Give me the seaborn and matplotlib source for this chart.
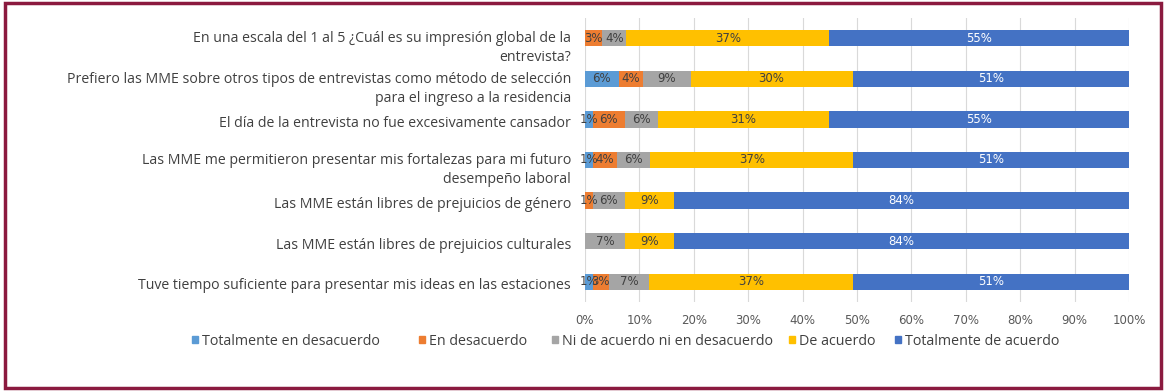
import numpy as np
import pandas as pd
import seaborn as sns
import matplotlib.pyplot as plt
import matplotlib.transforms as mtransforms
from matplotlib.patches import Rectangle

preguntas = [
    "En una escala del 1 al 5 ¿Cuál es su impresión global de la\nentrevista?",
    "Prefiero las MME sobre otros tipos de entrevistas como método de selección\npara el ingreso a la residencia",
    "El día de la entrevista no fue excesivamente cansador",
    "Las MME me permitieron presentar mis fortalezas para mi futuro\ndesempeño laboral",
    "Las MME están libres de prejuicios de género",
    "Las MME están libres de prejuicios culturales",
    "Tuve tiempo suficiente para presentar mis ideas en las estaciones",
]
categorias = ["Totalmente en desacuerdo", "En desacuerdo", "Ni de acuerdo ni en desacuerdo",
              "De acuerdo", "Totalmente de acuerdo"]
tot_desacuerdo = [0.0, 6.2, 1.4, 1.4, 0.0, 0.0, 1.4]
en_desacuerdo = [3.2, 4.4, 6.0, 4.4, 1.4, 0.0, 3.0]
neutral = [4.4, 8.8, 6.1, 6.2, 6.0, 7.4, 7.4]
de_acuerdo = [37.3, 29.8, 31.3, 37.3, 9.0, 9.0, 37.4]
tot_acuerdo = [55.1, 50.8, 55.2, 50.7, 83.6, 83.6, 50.8]
colores = ["#5B9BD5", "#ED7D31", "#A5A5A5", "#FFC000", "#4472C4"]
color_txt = ["#404040", "#404040", "#404040", "#404040", "white"]

df = pd.DataFrame({"pregunta": preguntas})
series = [tot_desacuerdo, en_desacuerdo, neutral, de_acuerdo, tot_acuerdo]
for c, s in zip(categorias, series):
    df[c] = s
acum = df[categorias].cumsum(axis=1)

fig = plt.figure(figsize=(11.66, 3.92), dpi=100)
ax = fig.add_axes([0.5017, 0.2296, 0.4666, 0.7245])

# stacked bars drawn as overlapping cumulative totals
for k in range(len(categorias) - 1, -1, -1):
    sns.barplot(x=acum[categorias[k]], y=df["pregunta"], orient="h",
                color=colores[k], width=0.4, ax=ax, zorder=3, saturation=1)

narrow = ["Liberation Sans Narrow", "DejaVu Sans"]
for i in range(len(df)):
    for k, c in enumerate(categorias):
        v = df[c][i]
        if v >= 1:
            ax.text(acum[c][i] - v / 2, i, f"{v:.0f}%", ha="center", va="center",
                    fontsize=8.5, color=color_txt[k], family=narrow, zorder=4)

ax.set_xlim(0, 100)
ax.set_ylim(len(df) - 0.5, -0.5)
ax.set_xticks(np.arange(0, 101, 10))
ax.set_xticklabels([f"{t}%" for t in range(0, 101, 10)], family=narrow,
                   fontsize=8.5, color="#595959")
ax.set_yticks([])
ax.set_xlabel("")
ax.set_ylabel("")
ax.grid(axis="x", color="#D9D9D9", linewidth=0.8, zorder=0)
ax.set_axisbelow(True)
for sp in ax.spines.values():
    sp.set_visible(False)
ax.tick_params(length=0)
ax.tick_params(axis="x", pad=9)

# category labels, two-line ones hang below the bar centre like in Excel
trans = mtransforms.blended_transform_factory(ax.transAxes, ax.transData)
for i, p in enumerate(preguntas):
    dy = -0.10 if "\n" in p else -0.04
    off = mtransforms.ScaledTranslation(-0.14, dy, fig.dpi_scale_trans)
    ax.text(0, i, p, transform=trans + off, ha="right", va="center",
            multialignment="right", fontsize=10.2, color="#404040",
            family="Open Sans", linespacing=1.35)

legend_x = [192, 419, 552, 789, 895]
for k, c in enumerate(categorias):
    h = plt.Rectangle((0, 0), 1, 1, color=colores[k])
    fig.legend([h], [c], loc="center left", bbox_to_anchor=(legend_x[k] / 1166, 0.13),
               frameon=False, handlelength=0.45, handleheight=0.45, handletextpad=0.25,
               borderpad=0, borderaxespad=0,
               prop={"family": "Open Sans", "size": 10.3}, labelcolor="#404040")

fig.patches.append(Rectangle((0.004, 0.01), 0.992, 0.982, transform=fig.transFigure,
                             fill=False, edgecolor="#8B1A3F", linewidth=2.5))
fig.savefig("out.png", dpi=100)
